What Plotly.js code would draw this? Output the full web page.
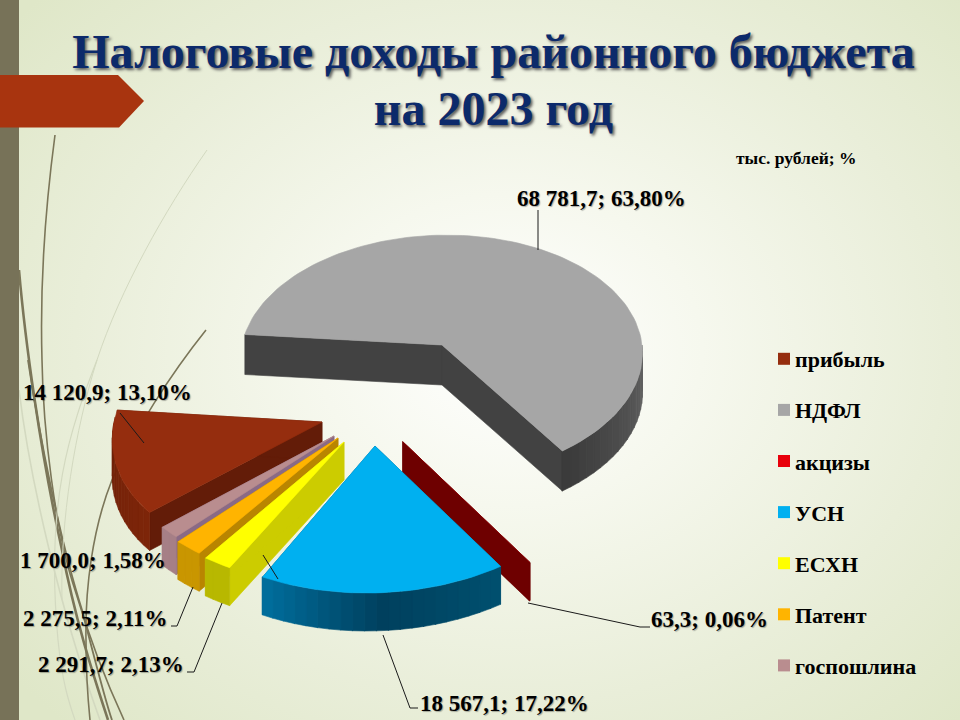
<!DOCTYPE html>
<html><head><meta charset="utf-8">
<script src="https://cdn.plot.ly/plotly-3.0.1.min.js"></script>
<style>
html,body{margin:0;padding:0;width:960px;height:720px;overflow:hidden;
background:radial-gradient(ellipse 640px 520px at 510px 350px,#ffffff 0%,#f6f8ee 30%,#e9eed9 68%,#dfe7c8 100%);}
#c{width:960px;height:720px;}
</style></head><body><div id="c"></div>
<script>
// ---------- data ----------
const categories = ['прибыль','НДФЛ','акцизы','УСН','ЕСХН','Патент','госпошлина'];
const values     = [14120.9, 68781.7, 63.3, 18567.1, 2291.7, 2275.5, 1700.0];
const percents   = [13.10, 63.80, 0.06, 17.22, 2.13, 2.11, 1.58];
const topColors  = ['#952d0e','#a6a6a6','#e8000b','#00b0f0','#ffff00','#ffb400','#b98d8f'];

// ---------- exploded-3D projection of each slice (styling, not data) ----------
const startAngle = 227.9;
const apexX  = [322, 442, 402.7, 375, 344, 338, 334];
const apexY  = [422, 345, 441.7, 446, 442, 438, 436];
const radX   = [208, 200, 232, 231, 219.5, 217, 215];
const radY   = [135, 120, 148, 147, 141, 140, 136];
const skew   = [27, 5, 8, 8.6, 16.6, 18.9, 18];
const persp  = [0, 0.092, 0, 0, 0, 0, 0];
const depth  = [38, 40, 38, 38, 38, 38, 38];
const sideColors = ['#631c08','#424242','#6e0000','#005a80','#cccc00','#b98500','#8a6a85'];
const arcColors  = [['#7d2509','#6f2008'],['#666666','#3a3a3a'],['#6e0000','#6e0000'],
                    ['#00506f','#00405e','#006f9e'],['#b8b800','#b8b800'],['#c99600','#c99600'],['#a67f86','#a67f86']];
const drawOrder  = [1,2,0,6,5,4,3];

const fmtValue = v => { const p=v.toFixed(1).split('.'); return p[0].replace(/\B(?=(\d{3})+$)/g,' ')+','+p[1]; };
const fmtPct   = p => p.toFixed(2).replace('.',',')+'%';
const labels   = values.map((v,i)=>fmtValue(v)+'; '+fmtPct(percents[i]));

const labelX = [21, 515, 649, 418, 36, 21, 18];
const labelY = [392, 198, 619, 703, 664, 618, 560];
const leaderX = [[120,144],[538,538],[528,640,650],[383,410,418],[222,194,187],[193,177,171],[263,278]];
const leaderY = [[413,443],[250,210],[603,627,627],[635,708,708],[603,672,672],[587,626,626],[555,579]];

// ---------- geometry ----------
const total = values.reduce((a,b)=>a+b,0);
const rad = d=>d*Math.PI/180;
function pt(i,deg,r,dz){
  const u=Math.sin(rad(deg))*r, v=Math.cos(rad(deg))*r, s=1/(1+persp[i]*v);
  return [apexX[i]+(radX[i]*u+skew[i]*v)*s, apexY[i]-radY[i]*v*s+(dz||0)];
}
function hex2(c){return [1,3,5].map(k=>parseInt(c.substr(k,2),16));}
function mix(stops,t){
  const n=stops.length-1,p=Math.min(t*n,n-1e-6),k=Math.floor(p),f=p-k,a=hex2(stops[k]),b=hex2(stops[k+1]);
  return 'rgb('+a.map((x,j)=>Math.round(x+(b[j]-x)*f)).join(',')+')';
}
function poly(pts,color){
  return {type:'scatter',mode:'lines',x:pts.map(p=>p[0]).concat(pts[0][0]),y:pts.map(p=>p[1]).concat(pts[0][1]),
    fill:'toself',fillcolor:color,line:{color:color,width:0.6},hoverinfo:'skip',showlegend:false};
}
let acc=startAngle; const a0=[],a1=[];
values.forEach(v=>{a0.push(acc);acc+=v/total*360;a1.push(acc);});

const traces=[];
drawOrder.forEach(i=>{
  const d=depth[i], A=a0[i], B=a1[i];
  [A,B].forEach(t=>{ traces.push(poly([pt(i,t,0),pt(i,t,1),pt(i,t,1,d),pt(i,t,0,d)],sideColors[i])); });
  let lo=A,hi=B;
  if(i===1){lo=90+360;hi=B;}
  if(i===0){hi=Math.min(B,272);}
  const N=Math.max(1,Math.ceil((hi-lo)/3));
  for(let k=0;k<N;k++){
    const p=lo+(hi-lo)*k/N,q=lo+(hi-lo)*(k+1.05)/N;
    traces.push(poly([pt(i,p,1),pt(i,q,1),pt(i,q,1,d),pt(i,p,1,d)],mix(arcColors[i],(k+.5)/N)));
  }
  const top=[pt(i,A,0)];
  const M=Math.max(2,Math.ceil((B-A)/2));
  for(let k=0;k<=M;k++) top.push(pt(i,A+(B-A)*k/M,1));
  traces.push(poly(top,i===2?'#8a0005':topColors[i]));
});
leaderX.forEach((lx,i)=>traces.push({type:'scatter',mode:'lines',x:lx,y:leaderY[i],
  line:{color:'#1a1a1a',width:1},hoverinfo:'skip',showlegend:false}));
categories.forEach((c,i)=>traces.push({type:'scatter',mode:'markers',x:[null],y:[null],name:c,legendgroup:c,
  marker:{symbol:'square',size:12,color:topColors[i]},hoverinfo:'skip',showlegend:true}));

const serif='"Liberation Serif","Times New Roman",serif';
const ann=labels.map((t,i)=>({x:labelX[i],y:labelY[i],xref:'x',yref:'y',text:t,showarrow:false,xanchor:'left',yanchor:'middle',
  font:{family:serif,size:23,color:'#000',weight:'bold',shadow:'1px 1px 1px rgba(0,0,0,0.3)'}}));
ann.push({x:734,y:158,xref:'x',yref:'y',text:'тыс. рублей; %',showarrow:false,xanchor:'left',yanchor:'middle',
  font:{family:serif,size:17.5,color:'#000',weight:'bold'}});

const curve=(path,w,c)=>({type:'path',path:path,xref:'x',yref:'y',line:{color:c,width:w},layer:'below'});
const grass='#7b7659', pale='#d3d9c0';
const shapes=[
  curve('M 55 135 C 45 210 40 290 42 360 C 43 430 55 530 75 590 C 90 640 110 690 124 720',1.6,grass),
  curve('M 19 270 C 25 340 40 450 62 550 C 75 620 95 680 108 720',2.6,grass),
  curve('M 28 360 C 40 440 60 540 82 610 C 95 660 105 700 112 720',1.8,grass),
  curve('M 207 150 C 165 210 120 290 97 360 C 75 430 60 520 62 600',1,pale),
  curve('M 19 390 C 30 480 60 610 100 720',1.6,pale),
  curve('M 97 360 C 70 430 45 500 58 640 C 62 680 68 700 75 720',1.2,pale),
  curve('M 206 330 C 170 375 135 430 112 480 C 92 530 85 590 86 640 C 86 680 88 700 90 720',1.6,grass),
  {type:'rect',xref:'x',yref:'y',x0:0,x1:19,y0:0,y1:720,fillcolor:'#777258',line:{width:0},layer:'below'},
  {type:'path',xref:'x',yref:'y',path:'M 0 75 L 118 75 L 144 101 L 119 127.5 L 0 127.5 Z',fillcolor:'#a8340f',line:{width:0},layer:'below'}
];

const layout={width:960,height:720,margin:{l:0,r:0,t:0,b:0},paper_bgcolor:'rgba(0,0,0,0)',plot_bgcolor:'rgba(0,0,0,0)',
  title:{text:'Налоговые доходы районного бюджета<br>на 2023 год',x:0.514,xanchor:'center',y:0.905,yanchor:'top',
    font:{family:serif,size:48,color:'#0c2a6b',weight:'bold',shadow:'2px 2px 3px #5a5a5a'}},
  xaxis:{range:[0,960],visible:false,fixedrange:true},
  yaxis:{range:[720,0],visible:false,fixedrange:true},
  shapes:shapes,annotations:ann,
  legend:{x:755/960,y:1-338/720,xanchor:'left',yanchor:'top',bgcolor:'rgba(0,0,0,0)',tracegroupgap:19.5,itemclick:false,itemdoubleclick:false,
    font:{family:serif,size:22,color:'#000',weight:'bold'}}
};
Plotly.newPlot('c',traces,layout,{displayModeBar:false,responsive:false}).then(()=>{
  document.querySelectorAll('.legend .legendpoints').forEach(g=>{g.setAttribute('transform','translate(9,0)');});
  const lines=document.querySelectorAll('.gtitle tspan.line');
  if(lines.length>1){ const y=parseFloat(lines[1].getAttribute('y')); if(!isNaN(y)) lines[1].setAttribute('y',y-6); }
});
</script></body></html>
